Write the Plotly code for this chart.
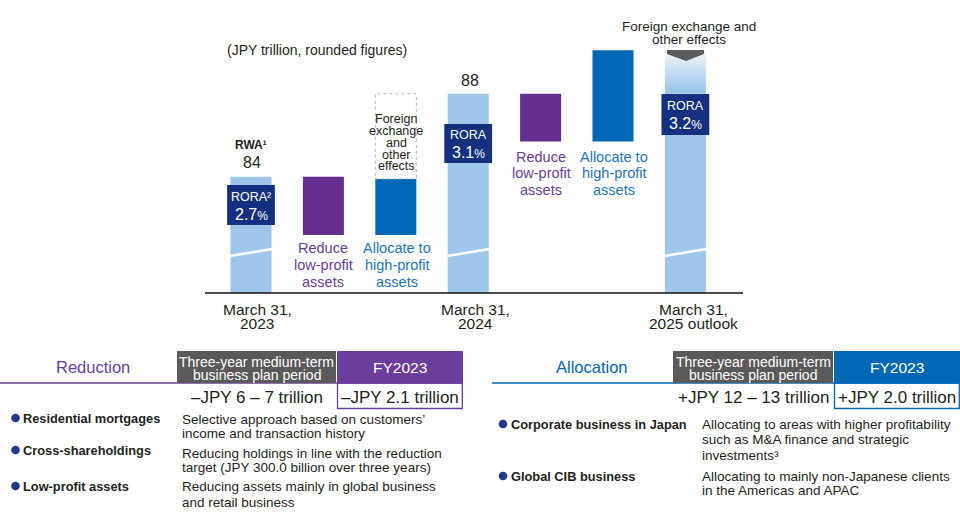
import plotly.graph_objects as go

# ---------------- data ----------------
categories = ["March 31,<br>2023", "Reduce", "Allocate", "March 31,<br>2024",
              "Reduce", "Allocate", "March 31,<br>2025 outlook"]
rwa_2023 = 84            # JPY trillion
rwa_2024 = 88
reduce_fy23 = 2.8        # drawn step lengths (illustrative)
allocate_fy23 = 2.7
reduce_fy24 = 2.3
allocate_fy24 = 4.4
outlook_solid = 88.0
rora_labels = ["2.7", "3.1", "3.2"]
rora_sup = ["²", "", ""]
axis_floor = 78.4        # broken-axis floor of the bars

table_left_plan = "–JPY 6 – 7 trillion"
table_left_fy = "–JPY 2.1 trillion"
table_right_plan = "+JPY 12 – 13 trillion"
table_right_fy = "+JPY 2.0 trillion"

left_items = [("Residential mortgages", ["Selective approach based on customers’", "income and transaction history"]),
              ("Cross-shareholdings", ["Reducing holdings in line with the reduction", "target (JPY 300.0 billion over three years)"]),
              ("Low-profit assets", ["Reducing assets mainly in global business", "and retail business"])]
right_items = [("Corporate business in Japan", ["Allocating to areas with higher profitability", "such as M&A finance and strategic", "investments³"]),
               ("Global CIB business", ["Allocating to mainly non-Japanese clients", "in the Americas and APAC"])]

# ---------------- styles ----------------
W, H = 960, 520
FONT = "Liberation Sans, Arial, sans-serif"
LIGHT = "#9ec6ea"
PURPLE = "#662d91"
PURPLE_TXT = "#6b3c9c"
BLUE = "#0068b7"
BLUE_TXT = "#1b74c0"
NAVY = "#14307e"
GRAY = "#5a5a5a"
TXT = "#231f20"
BULLET = "#1d3a8c"

# pixel geometry of the chart area
X0_PX, STEP_PX = 251, 72.4
BASE_PX, PX_PER_T = 293, 20.75
BW = 41 / STEP_PX

xr = [(0 - X0_PX) / STEP_PX, (W - X0_PX) / STEP_PX]
yr = [axis_floor - (H - BASE_PX) / PX_PER_T, axis_floor + BASE_PX / PX_PER_T]


def px(x):
    return x / W


def py(y):
    return 1 - y / H


fig = go.Figure()

# totals
tot_x = [0, 3, 6]
tot_top = [rwa_2023, rwa_2024, outlook_solid]
fig.add_trace(go.Bar(x=tot_x, y=[t - axis_floor for t in tot_top], base=[axis_floor] * 3,
                     width=BW, marker=dict(color=LIGHT, line_width=0), hoverinfo="skip"))
# reductions
red_base = [rwa_2023 - reduce_fy23, rwa_2024 - reduce_fy24]
fig.add_trace(go.Bar(x=[1, 4], y=[reduce_fy23, reduce_fy24], base=red_base,
                     width=BW, marker=dict(color=PURPLE, line_width=0), hoverinfo="skip"))
# allocations
fig.add_trace(go.Bar(x=[2, 5], y=[allocate_fy23, allocate_fy24], base=red_base,
                     width=BW, marker=dict(color=BLUE, line_width=0), hoverinfo="skip"))

# gradient top of outlook bar (before FX effects)
outlook_pre_fx = rwa_2024 - reduce_fy24 + allocate_fy24
fig.add_trace(go.Scatter(
    x=[6 - BW / 2, 6 + BW / 2, 6 + BW / 2, 6 - BW / 2, 6 - BW / 2],
    y=[outlook_solid, outlook_solid, outlook_pre_fx, outlook_pre_fx, outlook_solid],
    mode="lines", line=dict(width=0), fill="toself",
    fillgradient=dict(type="vertical", colorscale=[[0, LIGHT], [0.1, LIGHT], [1, "#f3f8fd"]]),
    hoverinfo="skip"))

shapes = []
annotations = []

# dashed FX box above allocation FY23
alloc23_top = rwa_2023 - reduce_fy23 + allocate_fy23
shapes.append(dict(type="rect", xref="x", yref="y", x0=2 - BW / 2, x1=2 + BW / 2,
                   y0=alloc23_top, y1=rwa_2024, line=dict(color="#b5b5b5", width=1, dash="dot")))

# break lines on total bars
for xi in tot_x:
    shapes.append(dict(type="line", xref="x", yref="y", x0=xi - BW / 2 - 0.01, x1=xi + BW / 2 + 0.01,
                       y0=axis_floor + 1.78, y1=axis_floor + 2.12, line=dict(color="white", width=2.5)))

# baseline
shapes.append(dict(type="line", xref="paper", yref="y", x0=px(205), x1=px(743),
                   y0=axis_floor, y1=axis_floor, line=dict(color="#111111", width=1.3)))

# FX arrow on outlook bar
arrow = f"M {px(667)} {py(50)} L {px(704)} {py(50)} L {px(704)} {py(54)} L {px(686)} {py(61)} L {px(667)} {py(54)} Z"
shapes.append(dict(type="path", xref="paper", yref="paper", path=arrow,
                   fillcolor="#5c5c5c", line=dict(width=0)))


def text(x, y, s, size, color=TXT, bold=False, xanchor="center", xref="paper"):
    if bold:
        s = f"<b>{s}</b>"
    annotations.append(dict(x=px(x) if xref == "paper" else x, y=py(y), xref=xref, yref="paper",
                            text=s, showarrow=False, xanchor=xanchor, yanchor="middle",
                            font=dict(family=FONT, size=size, color=color), borderpad=0))


# RORA boxes
rora_boxes = [(0, 185, 225, 197, 214), (3, 124, 163, 135, 152), (6, 94, 135, 106, 123)]
for (xi, t, b, ty1, ty2), lab, sup in zip(rora_boxes, rora_labels, rora_sup):
    shapes.append(dict(type="rect", xref="x", yref="paper", x0=xi - 0.33, x1=xi + 0.33,
                       y0=py(b), y1=py(t), fillcolor=NAVY, line=dict(width=0)))
    text(xi, ty1, "RORA" + sup, 12.5, "white", xref="x")
    text(xi, ty2, lab + "<span style='font-size:12px'>%</span>", 16, "white", xref="x")

# chart texts
text(317, 50, "(JPY trillion, rounded figures)", 14)
text(251, 145, "RWA¹", 12, bold=True)
text(252, 162, str(rwa_2023), 16)
text(470, 80, str(rwa_2024), 16)
for yy, s in zip([119, 131, 143, 155, 166], ["Foreign", "exchange", "and", "other", "effects"]):
    text(396, yy, s, 12.5)
text(689, 26, "Foreign exchange and", 13.5)
text(689, 40, "other effects", 13.5)
for cx, yys in [(323, [248, 265, 282]), (541, [157, 173, 190])]:
    for yy, s in zip(yys, ["Reduce", "low-profit", "assets"]):
        text(cx, yy, s, 14.5, PURPLE_TXT)
for cx, yys in [(397, [248, 265, 282]), (614, [157, 173, 190])]:
    for yy, s in zip(yys, ["Allocate to", "high-profit", "assets"]):
        text(cx, yy, s, 14.5, BLUE_TXT)

# x labels
for cx, cat in zip([257, 475, 693], [categories[0], categories[3], categories[6]]):
    l1, l2 = cat.split("<br>")
    text(cx, 309, l1, 15.5)
    text(cx, 323, l2, 15.5)


# ---------------- lower tables ----------------
def table(title, tcolor, tx, line_x0, gray_x0, gray_x1, fy_x1, plan, fy):
    text(tx, 367, title, 16.5, tcolor)
    shapes.append(dict(type="line", xref="paper", yref="paper", x0=px(line_x0), x1=px(fy_x1),
                       y0=py(383), y1=py(383), line=dict(color=tcolor, width=1.5)))
    shapes.append(dict(type="rect", xref="paper", yref="paper", x0=px(gray_x0), x1=px(gray_x1),
                       y0=py(383), y1=py(351), fillcolor=GRAY, line=dict(width=0)))
    shapes.append(dict(type="rect", xref="paper", yref="paper", x0=px(gray_x1 + 1), x1=px(fy_x1),
                       y0=py(383), y1=py(351), fillcolor=tcolor, line=dict(width=0)))
    shapes.append(dict(type="rect", xref="paper", yref="paper", x0=px(gray_x1 + 1.5), x1=px(fy_x1 - 0.7),
                       y0=py(408.5), y1=py(383), line=dict(color=tcolor, width=1.3)))
    gc = (gray_x0 + gray_x1) / 2
    fc = (gray_x1 + fy_x1) / 2
    text(gc, 361.5, "Three-year medium-term", 14, "white")
    text(gc, 375, "business plan period", 14, "white")
    text(fc, 367, "FY2023", 15.5, "white")
    text(gc, 397, plan, 17)
    text(fc, 397, fy, 17)


table("Reduction", PURPLE_TXT, 93, 0, 177, 336, 463, table_left_plan, table_left_fy)
table("Allocation", BLUE, 592, 492, 673, 833, 960, table_right_plan, table_right_fy)


def bullets(items, bx, tx, dx, rows):
    for (head, desc), (hy, dys) in zip(items, rows):
        shapes.append(dict(type="circle", xref="paper", yref="paper", x0=px(bx - 4.3), x1=px(bx + 4.3),
                           y0=py(hy + 4.3), y1=py(hy - 4.3), fillcolor=BULLET, line=dict(width=0)))
        text(tx, hy, head, 12.8, TXT, bold=True, xanchor="left")
        for dy, s in zip(dys, desc):
            text(dx, dy, s, 13.5, TXT, xanchor="left")


bullets(left_items, 15.5, 22, 181,
        [(418, [419, 433]), (450, [453, 467]), (486, [486, 502])])
bullets(right_items, 503, 510, 701,
        [(424, [424, 439, 455]), (476, [476, 490])])

fig.update_layout(
    width=W, height=H, margin=dict(l=0, r=0, t=0, b=0),
    paper_bgcolor="white", plot_bgcolor="white",
    barmode="overlay", showlegend=False,
    xaxis=dict(range=xr, visible=False, fixedrange=True),
    yaxis=dict(range=yr, visible=False, fixedrange=True),
    shapes=shapes, annotations=annotations,
    font=dict(family=FONT),
)

fig.write_html("out.html", config={"displayModeBar": False},
               post_script="document.body.style.margin='0';document.body.style.overflow='hidden';")
